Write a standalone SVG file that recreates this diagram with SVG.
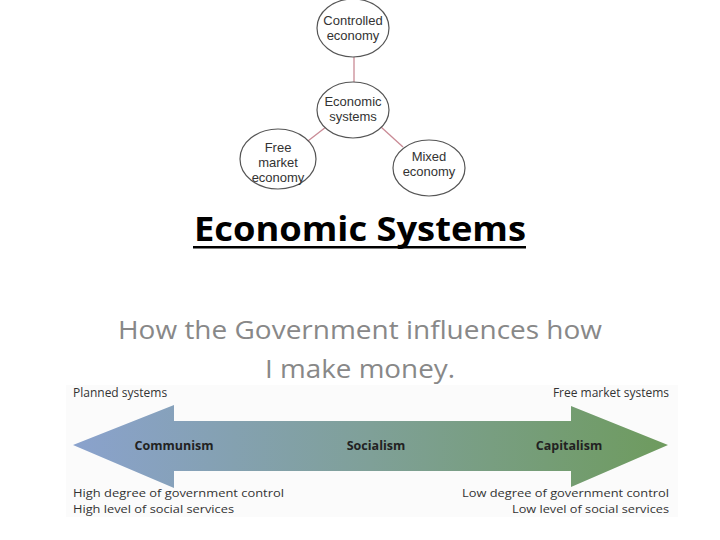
<svg xmlns="http://www.w3.org/2000/svg" width="720" height="540" viewBox="0 0 720 540">
<defs>
<linearGradient id="arrowGrad" x1="73" y1="0" x2="668" y2="0" gradientUnits="userSpaceOnUse">
<stop offset="0" stop-color="#8aa2cd"/>
<stop offset="0.5" stop-color="#7fa098"/>
<stop offset="1" stop-color="#6e9b5e"/>
</linearGradient>
</defs>
<style>
.node ellipse{fill:#fff;stroke:#555;stroke-width:1.2}
.node text{font-family:"Liberation Sans",Arial,sans-serif;font-size:13px;fill:#333;text-anchor:middle}
.conn line{stroke:#c98a95;stroke-width:1.3}
.fig{font-family:"Open Sans","Noto Sans",sans-serif;font-size:12px;fill:#333}
.low{font-family:"Open Sans","Noto Sans",sans-serif;font-size:11px;fill:#333}
.lab{font-family:"Open Sans","Noto Sans",sans-serif;font-size:12.5px;font-weight:bold;fill:#222;text-anchor:middle}
</style>
<rect width="720" height="540" fill="#fff"/>
<g class="conn">
<line x1="354" y1="57" x2="354" y2="82"/>
<line x1="326" y1="127" x2="304" y2="144"/>
<line x1="381" y1="127" x2="403" y2="147"/>
</g>
<g id="controlled" class="node">
<ellipse cx="353" cy="28" rx="36" ry="29"/>
<text x="353" y="25">Controlled</text>
<text x="353" y="40">economy</text>
</g>
<g id="economic" class="node">
<ellipse cx="353" cy="110" rx="36" ry="28"/>
<text x="353" y="106">Economic</text>
<text x="353" y="121">systems</text>
</g>
<g id="free" class="node">
<ellipse cx="278" cy="159" rx="38" ry="30"/>
<text x="278" y="152">Free</text>
<text x="278" y="167">market</text>
<text x="278" y="182">economy</text>
</g>
<g id="mixed" class="node">
<ellipse cx="429" cy="168" rx="36" ry="28"/>
<text x="429" y="161">Mixed</text>
<text x="429" y="176">economy</text>
</g>
<g id="title">
<text x="360" y="241" font-family="'Open Sans','Noto Sans',sans-serif" font-size="34" font-weight="bold" fill="#000" text-anchor="middle" textLength="332" lengthAdjust="spacingAndGlyphs">Economic Systems</text>
<rect x="193" y="246" width="333" height="2.5" fill="#000"/>
</g>
<g id="subtitle" font-family="'Open Sans','Noto Sans',sans-serif" font-size="25" fill="#888" text-anchor="middle">
<text x="360" y="339" textLength="484" lengthAdjust="spacingAndGlyphs">How the Government influences how</text>
<text x="360" y="378" textLength="190" lengthAdjust="spacingAndGlyphs">I make money.</text>
</g>
<g id="spectrum">
<rect x="66" y="385" width="612" height="132" fill="#fbfbfb"/>
<polygon points="73,445 174,405 174,421 571,421 571,406 668,445 571,487 571,471 174,471 174,488" fill="url(#arrowGrad)"/>
<text class="fig" x="73" y="397">Planned systems</text>
<text class="fig" x="669" y="397" text-anchor="end">Free market systems</text>
<text class="lab" x="174" y="450">Communism</text>
<text class="lab" x="376" y="450">Socialism</text>
<text class="lab" x="569" y="450">Capitalism</text>
<text class="low" x="73" y="497" textLength="211" lengthAdjust="spacingAndGlyphs">High degree of government control</text>
<text class="low" x="73" y="513" textLength="161" lengthAdjust="spacingAndGlyphs">High level of social services</text>
<text class="low" x="669" y="497" text-anchor="end" textLength="207" lengthAdjust="spacingAndGlyphs">Low degree of government control</text>
<text class="low" x="669" y="513" text-anchor="end" textLength="157" lengthAdjust="spacingAndGlyphs">Low level of social services</text>
</g>
</svg>
